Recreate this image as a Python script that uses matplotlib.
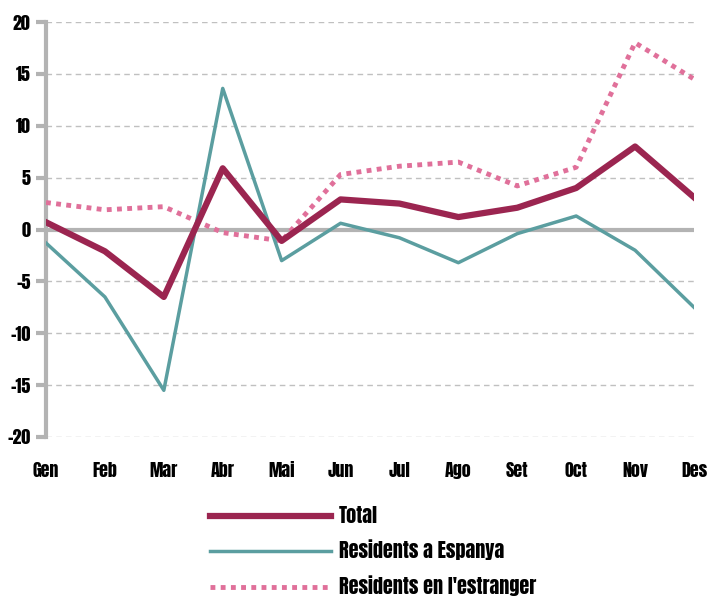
import numpy as np
import matplotlib.pyplot as plt

months = ["Gen", "Feb", "Mar", "Abr", "Mai", "Jun", "Jul", "Ago", "Set", "Oct", "Nov", "Des"]
total = [0.7, -2.1, -6.5, 5.9, -1.1, 2.9, 2.5, 1.2, 2.1, 4.0, 8.0, 3.1]
espanya = [-1.3, -6.5, -15.5, 13.6, -3.0, 0.6, -0.8, -3.2, -0.4, 1.3, -2.0, -7.5]
estranger = [2.6, 1.9, 2.2, -0.3, -1.1, 5.3, 6.1, 6.5, 4.2, 6.0, 18.0, 14.5]
yticks = [-20, -15, -10, -5, 0, 5, 10, 15, 20]

plt.rcParams['font.family'] = ['Anton', 'DejaVu Sans']

fig = plt.figure(figsize=(7.09, 6.03), dpi=100)
ax = fig.add_axes([46/709, 1-437/603, 648/709, 415/603])

x = np.arange(len(months))
ax.axhline(0, color='#b3b3b3', lw=3, zorder=1)
ax.plot(x, estranger, color='#e0709a', lw=3.5, linestyle=(0, (1, 1.1)),
        dash_capstyle='butt', label="Residents en l'estranger", zorder=3)
ax.plot(x, espanya, color='#5b9ea0', lw=2.5, label='Residents a Espanya', zorder=3)
ax.plot(x, total, color='#9b2550', lw=4.5, label='Total', zorder=4)

ax.set_xlim(0, 11)
ax.set_ylim(-20, 20)
ax.set_yticks(yticks)
ax.set_yticklabels([str(v) for v in yticks], fontsize=13)
ax.set_xticks(x)
ax.set_xticklabels(months, fontsize=13)
ax.grid(axis='y', color='#c0c0c0', linestyle=(0, (4, 3)), lw=1)
ax.set_axisbelow(True)
for s in ['top', 'right', 'bottom']:
    ax.spines[s].set_visible(False)
ax.spines['left'].set_color('#b3b3b3')
ax.spines['left'].set_linewidth(3)
ax.tick_params(axis='y', length=7, width=3, color='#b3b3b3', pad=4)
ax.tick_params(axis='x', length=0, pad=18)

h, l = ax.get_legend_handles_labels()
fig.legend(h[::-1], l[::-1], loc='upper left', bbox_to_anchor=(192/709, 1-488/603),
           frameon=False, fontsize=14.5, handlelength=6.0, handletextpad=0.4,
           labelspacing=0.72)

fig.savefig('out.png', dpi=100)
